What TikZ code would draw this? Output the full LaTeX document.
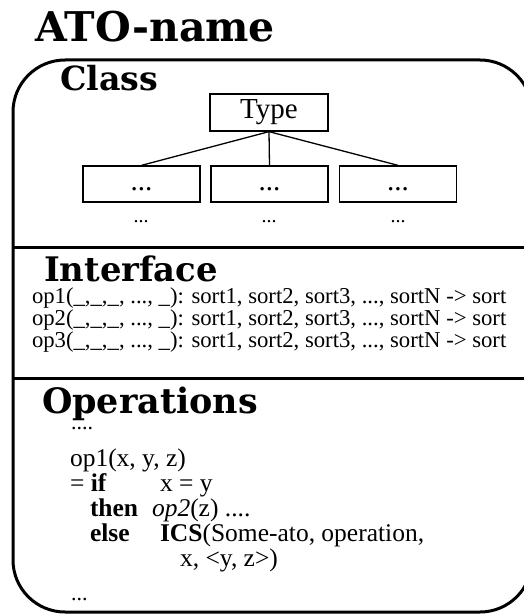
\documentclass[tikz,border=0pt]{standalone}
\usepackage{fontspec}
\usepackage{graphicx}
\newfontfamily\tms{Liberation Serif}
\newfontfamily\hdfont{DejaVu Serif}
\tikzset{
  txt/.style={anchor=base west, inner sep=0pt, outer sep=0pt},
  heading/.style={txt},
  typebox/.style={draw, line width=1.3pt, inner sep=0pt, minimum width=118pt, minimum height=37pt, font=\tms\fontsize{29}{32}\selectfont},
  childbox/.style={draw, line width=1.3pt, inner sep=0pt, minimum width=117pt, minimum height=36pt, text height=14pt, text depth=2pt, font=\tms\fontsize{29}{32}\selectfont},
  subdots/.style={anchor=base, inner sep=0pt, font=\tms\fontsize{20}{22}\selectfont},
  link/.style={line width=1.3pt},
  frame/.style={line width=3pt},
  iface/.style={txt, font=\tms\fontsize{22.7}{25}\selectfont},
  opsline/.style={txt, font=\tms\fontsize{25.5}{28}\selectfont},
  opsdots/.style={txt, font=\tms\fontsize{22}{24}\selectfont}
}
\begin{document}
\begin{tikzpicture}[x=1pt, y=-1pt]
\useasboundingbox (0,0) rectangle (524,615);
\clip (0,0) rectangle (524,615);

% title
\node[heading] (title) at (35,42) {\resizebox{240pt}{!}{\hdfont\bfseries ATO-name}};

% outer frame and dividers
\draw[frame, rounded corners=52pt] (13,60) rectangle (532,612);
\coordinate (d1l) at (13,247);
\coordinate (d1r) at (532,247);
\coordinate (d2l) at (13,378);
\coordinate (d2r) at (532,378);
\draw[frame] (d1l) -- (d1r);
\draw[frame] (d2l) -- (d2r);

% Class section
\node[heading] (class) at (60,91) {\resizebox{98pt}{!}{\hdfont\bfseries Class}};
\node[typebox] (type) at (269,112.5) {Type};
\node[childbox] (c1) at (141.5,184) {...};
\node[childbox] (c2) at (269.5,184) {...};
\node[childbox] (c3) at (398,184) {...};
\draw[link] (type.south) -- (c1.north);
\draw[link] (type.south) -- (c2.north);
\draw[link] (type.south) -- (c3.north);
\node[subdots] (s1) at (141,222) {...};
\node[subdots] (s2) at (269,222) {...};
\node[subdots] (s3) at (398,222) {...};

% Interface section
\node[heading] (iface) at (44,281) {\resizebox{174pt}{!}{\hdfont\bfseries Interface}};
\node[iface] (i1) at (32,303) {op1(\_,\_,\_, ..., \_): sort1, sort2, sort3, ..., sortN -> sort};
\node[iface] (i2) at (32,325) {op2(\_,\_,\_, ..., \_): sort1, sort2, sort3, ..., sortN -> sort};
\node[iface] (i3) at (32,347) {op3(\_,\_,\_, ..., \_): sort1, sort2, sort3, ..., sortN -> sort};

% Operations section
\node[heading] (ops) at (42,413) {\resizebox{216pt}{!}{\hdfont\bfseries Operations}};
\node[opsdots] (o0) at (71,429) {....};
\node[opsline] (o1) at (70,466) {op1(x, y, z)};
\node[opsline] (o2a) at (70,491) {= \textbf{if}};
\node[opsline] (o2b) at (160,491) {x = y};
\node[opsline] (o3a) at (90,516) {\textbf{then}};
\node[opsline] (o3b) at (152,516) {\textit{op2}(z) ....};
\node[opsline] (o4a) at (90,541) {\textbf{else}};
\node[opsline] (o4b) at (160,541) {\textbf{ICS}(Some-ato, operation,};
\node[opsline] (o5) at (180,566) {x, <y, z>)};
\node[opsdots] (o6) at (71,600) {...};
\end{tikzpicture}
\end{document}
